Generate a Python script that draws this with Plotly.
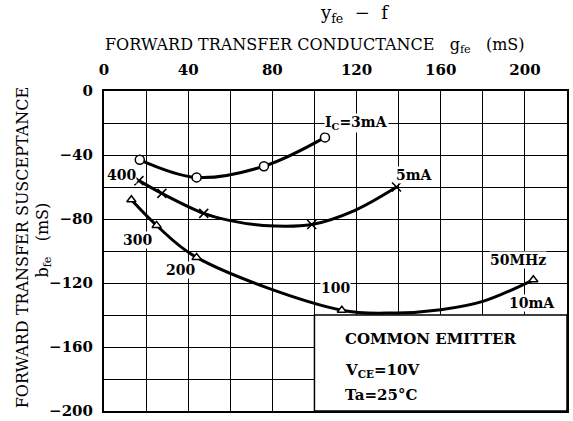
import plotly.graph_objects as go

# ---- data ----
# I_C = 3 mA (circles)
gfe_3mA = [17, 44, 76, 105]
bfe_3mA = [-43, -54, -47, -29]
# I_C = 5 mA (crosses)
gfe_5mA = [16.6, 27.5, 47.4, 98.7, 139]
bfe_5mA = [-56, -64, -76.5, -83.4, -60]
# extra points read on the drawn 5 mA curve (between markers)
curve_gfe_5mA = [16.6, 27.5, 47.4, 60, 75.6, 98.7, 119, 139]
curve_bfe_5mA = [-56, -64, -76.5, -81, -84, -83.4, -74.7, -60]
# I_C = 10 mA (triangles)
gfe_10mA = [13, 25, 44, 113, 204]
bfe_10mA = [-68, -84, -104, -137, -118]
curve_gfe_10mA = [13, 25, 44, 113, 139, 160, 180, 204]
curve_bfe_10mA = [-68, -84, -104, -137, -138.7, -136.7, -131.5, -118]

x_ticks = [0, 40, 80, 120, 160, 200]
y_ticks = [0, -40, -80, -120, -160, -200]

FONT = "DejaVu Serif"

fig = go.Figure()

def add_curve(cx, cy, mx, my, symbol, size):
    fig.add_trace(go.Scatter(x=cx, y=cy, mode="lines",
                             line=dict(color="black", width=3, shape="spline", smoothing=1.0),
                             hoverinfo="skip", showlegend=False))
    fig.add_trace(go.Scatter(x=mx, y=my, mode="markers",
                             marker=dict(symbol=symbol, size=size, color="white",
                                         line=dict(color="black", width=1.5)),
                             showlegend=False))

add_curve(gfe_3mA, bfe_3mA, gfe_3mA, bfe_3mA, "circle", 9)
add_curve(curve_gfe_5mA, curve_bfe_5mA, gfe_5mA, bfe_5mA, "x-thin", 9)
add_curve(curve_gfe_10mA, curve_bfe_10mA, gfe_10mA, bfe_10mA, "triangle-up", 8)

# white box with conditions
fig.add_shape(type="rect", x0=100, x1=220, y0=-200, y1=-140,
              fillcolor="white", line=dict(color="black", width=1.5), layer="above")

labels = [
    ("I<sub>C</sub>=3mA", 120, -20),
    ("5mA", 147.4, -52.6),
    ("400", 8.3, -52.6),
    ("300", 16, -92.9),
    ("200", 36.4, -112),
    ("100", 110.2, -123.2),
    ("50MHz", 196.9, -105.9),
    ("10mA", 203.6, -132.5),
]
for t, x, y in labels:
    fig.add_annotation(x=x, y=y, text=t, showarrow=False, bgcolor="white",
                       borderpad=0, font=dict(family=FONT, size=14, color="black", weight="bold"))

box_text = [
    ("COMMON EMITTER", -154.8),
    ("V<sub>CE</sub>=10V", -174.6),
    ("Ta=25°C", -189.8),
]
for t, y in box_text:
    fig.add_annotation(x=113.6, y=y, text=t, showarrow=False, xanchor="left",
                       font=dict(family=FONT, size=15, color="black", weight="bold"))

# titles
fig.add_annotation(xref="paper", yref="paper", x=0.54, y=1.24, xanchor="center", yanchor="middle",
                   text="y<sub>fe</sub>  −  f", showarrow=False,
                   font=dict(family=FONT, size=18, color="black"))
fig.add_annotation(xref="paper", yref="paper", x=-0.003, y=1.143, xanchor="left", yanchor="middle",
                   text="FORWARD TRANSFER CONDUCTANCE   g<sub>fe</sub>   (mS)", showarrow=False,
                   font=dict(family=FONT, size=16, color="black"))
fig.add_annotation(xref="paper", yref="paper", x=-0.176, y=0.51, textangle=-90,
                   xanchor="center", yanchor="middle",
                   text="FORWARD TRANSFER SUSCEPTANCE", showarrow=False,
                   font=dict(family=FONT, size=16, color="black"))
fig.add_annotation(xref="paper", yref="paper", x=-0.13, y=0.535, textangle=-90,
                   xanchor="center", yanchor="middle",
                   text="b<sub>fe</sub>   (mS)", showarrow=False,
                   font=dict(family=FONT, size=16, color="black"))

axis_common = dict(showline=True, linecolor="black", linewidth=2, mirror=True,
                   showgrid=True, gridcolor="black", gridwidth=1, zeroline=False,
                   ticks="", ticklabeloverflow="allow", automargin=False,
                   tickfont=dict(family=FONT, size=15, color="black", weight="bold"))

fig.update_xaxes(side="top", range=[0, 220], tickvals=x_ticks,
                 minor=dict(dtick=20, tick0=0, showgrid=True, gridcolor="black", gridwidth=1),
                 ticklabelstandoff=8, **axis_common)
fig.update_yaxes(range=[-200, 0], tickvals=y_ticks,
                 minor=dict(dtick=20, tick0=0, showgrid=True, gridcolor="black", gridwidth=1),
                 ticklabelstandoff=6, **axis_common)

fig.update_layout(width=573, height=421, margin=dict(l=104, r=6, t=91, b=10),
                  paper_bgcolor="white", plot_bgcolor="white", showlegend=False)

fig.write_html("out.html", config={"displayModeBar": False},
               post_script="document.body.style.margin='0px';")
